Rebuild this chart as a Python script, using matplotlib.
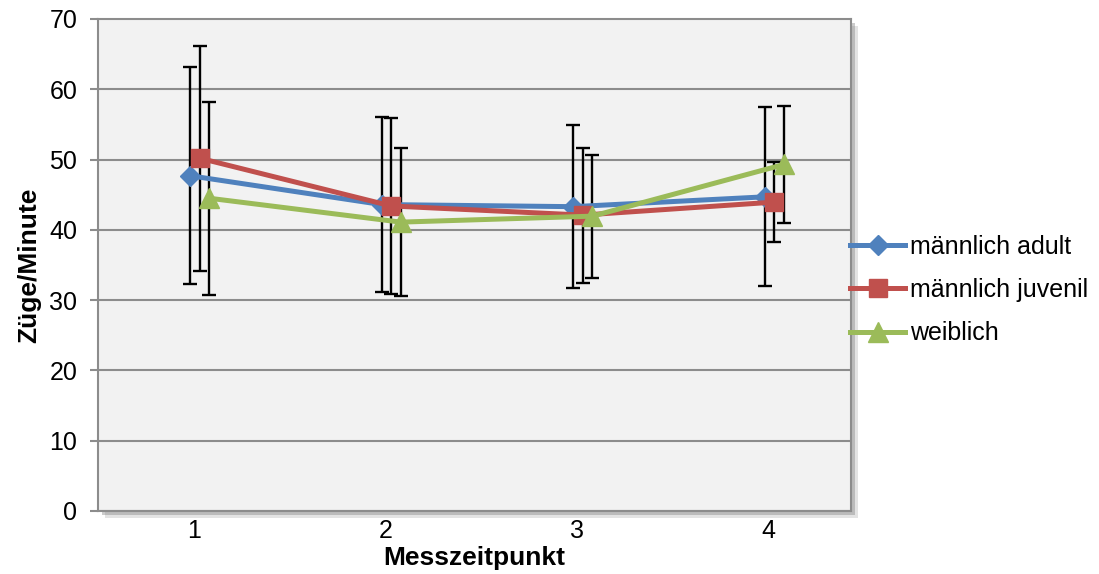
import matplotlib
matplotlib.use("Agg")
import matplotlib.pyplot as plt
import matplotlib.patheffects as pe
import numpy as np

plt.rcParams['font.family'] = ['Liberation Sans', 'DejaVu Sans']

categories = [1, 2, 3, 4]
series_names = ["männlich adult", "männlich juvenil", "weiblich"]
adult = [47.7, 43.6, 43.3, 44.7]
adult_err = [15.4, 12.5, 11.6, 12.75]
juvenil = [50.2, 43.4, 42.1, 43.95]
juvenil_err = [16.0, 12.5, 9.6, 5.65]
weiblich = [44.5, 41.1, 41.95, 49.3]
weiblich_err = [13.7, 10.5, 8.75, 8.3]
y_ticks = [0, 10, 20, 30, 40, 50, 60, 70]

colors = ["#4F81BD", "#C0504D", "#9BBB59"]
markers = ["D", "s", "^"]
msizes = [10.5, 13, 14]
offsets = [-0.02, 0.03, 0.08]

fig = plt.figure(figsize=(10.99, 5.74), dpi=100)
ax = fig.add_axes([98/1099, 1 - 511/574, (851-98)/1099, (511-19)/574])
ax.set_facecolor("#F2F2F2")
ax.patch.set_path_effects([
    pe.SimplePatchShadow(offset=(5, -5), shadow_rgbFace="#b0b0b0", alpha=0.35),
    pe.SimplePatchShadow(offset=(3, -3), shadow_rgbFace="#808080", alpha=0.4),
    pe.Normal()])

for v in [0, 10, 20, 30, 40, 50, 60]:
    ax.axhline(v, color="#8C8C8C", lw=1.5, zorder=1)

data = [(adult, adult_err), (juvenil, juvenil_err), (weiblich, weiblich_err)]
x = np.array(categories, dtype=float)
handles = []
for k, (vals, errs) in enumerate(data):
    xs = x + offsets[k]
    ax.errorbar(xs, vals, yerr=errs, fmt="none", ecolor="black", elinewidth=1.7,
                capsize=5, capthick=1.7, zorder=2)
    h, = ax.plot(xs, vals, color=colors[k], lw=3.6, marker=markers[k], ms=msizes[k],
                 markeredgecolor=colors[k], zorder=3 + k * 0.1, label=series_names[k])
    handles.append(h)

ax.set_xlim(0.5, 4.43)
ax.set_ylim(0, 70)
ax.set_xticks(categories)
ax.set_xticklabels([str(c) for c in categories])
ax.set_yticks(y_ticks)
ax.tick_params(axis="x", length=0, labelsize=18, pad=6)
ax.tick_params(axis="y", length=6, width=1.5, color="#8C8C8C", labelsize=18, pad=9, direction="out")
for s in ax.spines.values():
    s.set_color("#8C8C8C")
    s.set_linewidth(1.5)

ax.set_xlabel("Messzeitpunkt", fontsize=19, fontweight="bold", labelpad=2)
ax.set_ylabel("Züge/Minute", fontsize=19, fontweight="bold", labelpad=6)

fig.legend(handles=handles, loc="center left", bbox_to_anchor=(840/1099, 1 - 290/574),
           frameon=False, fontsize=18, handlelength=2.2, handletextpad=0.2,
           labelspacing=0.78, borderaxespad=0)

fig.savefig("out.png", dpi=100)
